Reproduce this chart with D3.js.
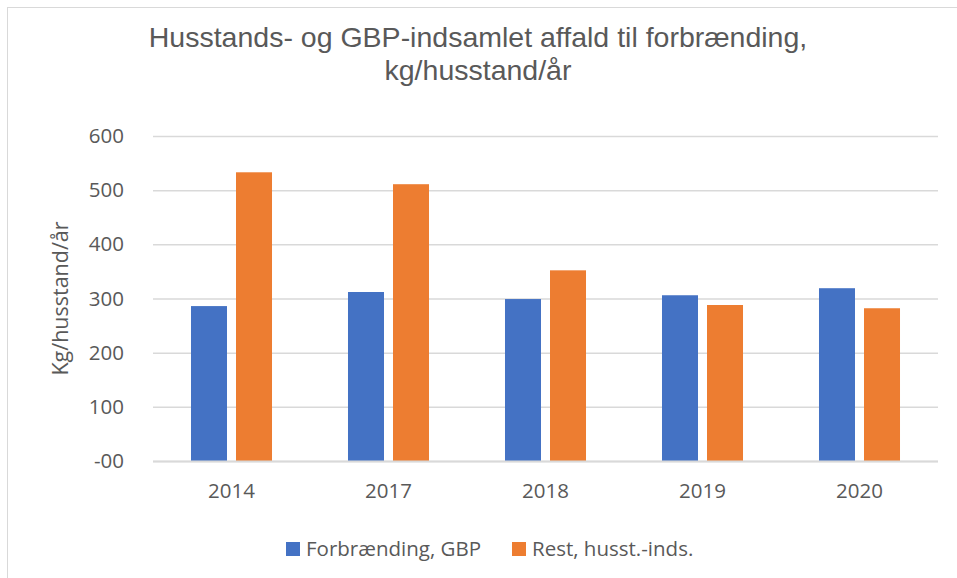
<!DOCTYPE html>
<html>
<head>
<meta charset="utf-8">
<script src="https://cdn.jsdelivr.net/npm/d3@7"></script>
<style>
  body { margin: 0; background: #fff; }
  svg { display: block; }
  .tick text { fill: #595959; }
</style>
</head>
<body>
<div id="chart"></div>
<script>
// categories and series values (kg/husstand/år)
const years = ['2014', '2017', '2018', '2019', '2020']
const seriesNames = ['Forbrænding, GBP', 'Rest, husst.-inds.']
const forbraending = [286, 312, 299, 306, 319]
const rest = [533, 511, 352, 288, 282]
const yTicks = [0, 100, 200, 300, 400, 500, 600]
const colors = ['#4472c4', '#ed7d31']

const width = 957
const height = 578
const margin = { top: 136, right: 19, bottom: 117, left: 153 }
const labelFont = '"Open Sans", "Noto Sans", sans-serif'

const svg = d3.select('#chart')
  .append('svg')
  .attr('width', width)
  .attr('height', height)

// chart area border (right/bottom edges fall outside the picture)
svg.append('rect')
  .attr('x', 7.5)
  .attr('y', 7.5)
  .attr('width', width + 20)
  .attr('height', height + 20)
  .attr('fill', 'none')
  .attr('stroke', '#d9d9d9')
  .attr('stroke-width', 1)

// Title
const title = svg.append('text')
  .attr('text-anchor', 'middle')
  .attr('fill', '#595959')
  .style('font-family', '"Liberation Sans", Arial, sans-serif')
  .style('font-size', '28.5px')
title.append('tspan').attr('x', 478).attr('y', 47)
  .text('Husstands- og GBP-indsamlet affald til forbrænding,')
title.append('tspan').attr('x', 478).attr('y', 80)
  .text('kg/husstand/år')

const x0 = d3.scaleBand()
  .domain(years)
  .range([margin.left, width - margin.right])
  .paddingInner(0.484)
  .paddingOuter(0.242)

const x1 = d3.scaleBand()
  .domain(seriesNames)
  .range([0, x0.bandwidth()])
  .paddingInner(0.2)
  .paddingOuter(0)

const y = d3.scaleLinear()
  .domain([0, 600])
  .range([height - margin.bottom, margin.top])

// gridlines
const yAxis = d3.axisLeft(y)
  .tickValues(yTicks)
  .tickSize(-(width - margin.left - margin.right))
  .tickPadding(29)
  .tickFormat(d => d === 0 ? '-00' : d)

const gy = svg.append('g')
  .attr('transform', `translate(${margin.left},0)`)
  .call(yAxis)
gy.select('.domain').remove()
gy.selectAll('.tick line').attr('stroke', '#d9d9d9').attr('stroke-width', 1.5)
gy.selectAll('.tick text')
  .style('font-family', labelFont)
  .style('font-size', '20.5px')

// y-axis title
svg.append('text')
  .attr('transform', `translate(60,${(y(0) + y(600)) / 2}) rotate(-90)`)
  .attr('text-anchor', 'middle')
  .attr('dy', '0.35em')
  .attr('fill', '#595959')
  .style('font-family', labelFont)
  .style('font-size', '21.5px')
  .text('Kg/husstand/år')

// bars
const rows = years.map((yr, i) => ({ year: yr, values: [forbraending[i], rest[i]] }))

const groups = svg.append('g')
  .selectAll('g')
  .data(rows)
  .join('g')
  .attr('transform', d => `translate(${x0(d.year)},0)`)

groups.selectAll('rect')
  .data(d => d.values.map((v, j) => ({ key: seriesNames[j], value: v, color: colors[j] })))
  .join('rect')
  .attr('x', d => x1(d.key))
  .attr('width', x1.bandwidth())
  .attr('y', d => y(d.value))
  .attr('height', d => y(0) - y(d.value))
  .attr('fill', d => d.color)

// baseline
svg.append('line')
  .attr('x1', margin.left)
  .attr('x2', width - margin.right)
  .attr('y1', y(0) + 0.5)
  .attr('y2', y(0) + 0.5)
  .attr('stroke', '#d9d9d9')
  .attr('stroke-width', 2)

// x axis labels
const xAxis = d3.axisBottom(x0).tickSize(0).tickPadding(22)
const gx = svg.append('g')
  .attr('transform', `translate(0,${y(0)})`)
  .call(xAxis)
gx.select('.domain').remove()
gx.selectAll('.tick text')
  .style('font-family', labelFont)
  .style('font-size', '20.5px')

// legend
const legendItems = [
  { name: seriesNames[0], color: colors[0], x: 286 },
  { name: seriesNames[1], color: colors[1], x: 512 }
]
const legend = svg.append('g')
  .selectAll('g')
  .data(legendItems)
  .join('g')
  .attr('transform', d => `translate(${d.x},542)`)
legend.append('rect')
  .attr('width', 14)
  .attr('height', 14)
  .attr('fill', d => d.color)
legend.append('text')
  .attr('x', 20)
  .attr('y', 7)
  .attr('dy', '0.35em')
  .attr('fill', '#595959')
  .style('font-family', labelFont)
  .style('font-size', '20.5px')
  .text(d => d.name)
</script>
</body>
</html>
